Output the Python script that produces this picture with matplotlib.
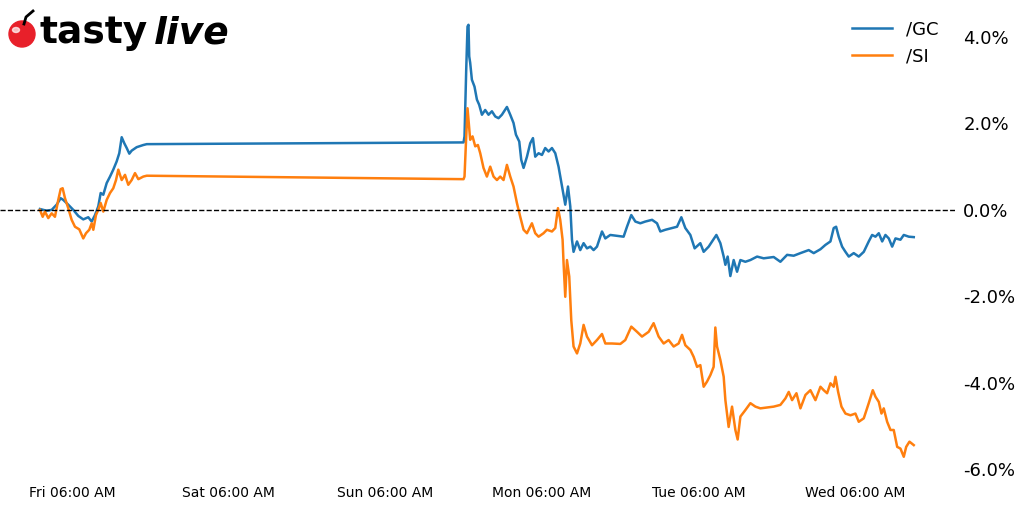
import matplotlib
matplotlib.use("Agg")
import matplotlib.pyplot as plt
from matplotlib.patches import Ellipse
from matplotlib.ticker import FuncFormatter

# hours since Fri 00:00, percent change from the first print
gc_hours = [1.09, 2.12, 2.89, 3.65, 4.27, 4.67, 5.43, 6.20, 6.97, 7.73, 8.50, 9.02, 9.53,
            10.03, 10.40, 10.80, 11.32, 11.83, 12.33, 12.85, 13.25, 13.62, 14.02, 14.39,
            14.79, 15.15, 15.92, 16.93, 17.46,
            66.01, 66.16, 66.42, 66.62, 66.77, 66.88, 67.03, 67.29, 67.69, 68.06, 68.41,
            68.83, 69.33, 69.84, 70.36, 70.87, 71.37, 71.89, 72.66, 73.17, 73.67, 74.04,
            74.55, 74.85, 75.21, 75.73, 76.23, 76.65, 77.00, 77.51, 78.03, 78.53, 79.04,
            79.56, 80.07, 80.57, 81.10, 81.60, 82.02, 82.37, 82.63, 82.87, 83.40, 83.90,
            84.41, 84.93, 85.44, 85.94, 86.46, 87.23, 87.74, 88.50, 89.53, 90.54, 91.06,
            91.72, 92.34, 93.10, 93.87, 94.90, 95.66, 96.17, 96.94, 97.96, 98.73, 99.39,
            100.00, 100.77, 101.43, 102.30, 102.81, 103.58, 104.10, 104.76, 105.37, 105.88,
            106.14, 106.49, 106.90, 107.41, 107.93, 108.44, 109.20, 109.97, 111.00, 112.01,
            113.54, 114.57, 115.60, 116.61, 117.64, 118.91, 119.68, 120.71, 121.47, 122.24,
            122.74, 123.11, 123.51, 124.03, 124.54, 125.05, 125.81, 126.58, 127.35, 128.11,
            128.63, 129.14, 129.65, 130.17, 130.67, 131.18, 131.70, 132.21, 132.97, 133.48,
            134.25, 135.01]
gc_pct = [0.02, -0.02, 0.00, 0.12, 0.27, 0.23, 0.12, 0.00, -0.14, -0.22, -0.17, -0.27, -0.12,
          0.08, 0.39, 0.35, 0.62, 0.77, 0.93, 1.12, 1.31, 1.68, 1.54, 1.43,
          1.30, 1.37, 1.45, 1.50, 1.52,
          1.56, 1.70, 3.24, 4.24, 4.28, 3.55, 3.40, 3.01, 2.85, 2.55, 2.43,
          2.20, 2.31, 2.20, 2.28, 2.16, 2.12, 2.20, 2.38, 2.20, 2.01, 1.74,
          1.58, 1.16, 0.97, 1.23, 1.54, 1.66, 1.23, 1.31, 1.27, 1.43, 1.35,
          1.43, 1.31, 1.00, 0.54, 0.12, 0.54, 0.08, -0.69, -0.97, -0.73, -0.93,
          -0.77, -0.89, -0.85, -0.93, -0.85, -0.50, -0.66, -0.58, -0.60, -0.62, -0.39,
          -0.12, -0.27, -0.31, -0.27, -0.23, -0.31, -0.50, -0.46, -0.42, -0.39, -0.17,
          -0.42, -0.58, -0.89, -0.77, -0.97, -0.85, -0.73, -0.58, -0.77, -1.08,
          -1.27, -1.08, -1.53, -1.16, -1.43, -1.16, -1.20, -1.16, -1.08, -1.12,
          -1.09, -1.20, -1.04, -1.06, -1.00, -0.93, -1.00, -0.91, -0.81, -0.73,
          -0.42, -0.39, -0.62, -0.85, -0.97, -1.08, -1.00, -1.08, -0.97, -0.73,
          -0.58, -0.62, -0.54, -0.73, -0.58, -0.66, -0.85, -0.66, -0.69, -0.58,
          -0.62, -0.63]

si_hours = [1.09, 1.51, 1.86, 2.37, 2.89, 3.39, 3.90, 4.27, 4.57, 4.93, 5.43, 5.95, 6.46,
            7.12, 7.73, 8.15, 8.65, 9.02, 9.27, 9.68, 10.03, 10.40, 10.80, 11.32, 11.83,
            12.33, 12.75, 13.10, 13.62, 14.13, 14.63, 15.15, 15.66, 16.17, 16.93, 17.46,
            66.01, 66.16, 66.42, 66.62, 66.77, 67.03, 67.39, 67.80, 68.21, 68.57, 69.07,
            69.59, 70.10, 70.61, 71.13, 71.63, 72.14, 72.66, 73.17, 73.67, 74.19, 74.70,
            75.21, 75.73, 76.49, 77.00, 77.51, 78.27, 78.79, 79.56, 80.07, 80.48, 80.83,
            81.19, 81.34, 81.60, 81.86, 82.21, 82.52, 82.87, 83.40, 83.90, 84.41, 84.93,
            85.70, 86.46, 87.23, 87.74, 88.76, 90.04, 90.80, 91.72, 92.60, 93.36, 94.38,
            95.14, 95.91, 96.68, 97.44, 98.21, 98.97, 99.50, 100.00, 100.77, 101.28, 101.80,
            102.30, 102.81, 103.33, 103.84, 104.34, 104.60, 104.86, 105.37, 105.88, 106.14,
            106.64, 107.16, 107.67, 108.02, 108.44, 109.20, 109.97, 110.74, 111.50, 112.53,
            113.54, 114.57, 115.34, 115.85, 116.36, 117.03, 117.64, 118.41, 119.17, 119.94,
            120.71, 121.21, 121.73, 122.24, 122.74, 123.01, 123.42, 123.93, 124.54, 125.31,
            126.07, 126.58, 127.35, 128.11, 128.73, 129.14, 129.65, 130.06, 130.41, 130.93,
            131.44, 131.94, 132.47, 132.97, 133.48, 133.85, 134.35, 135.01]
si_pct = [0.00, -0.16, -0.04, -0.19, -0.08, -0.16, 0.23, 0.48, 0.50, 0.27, 0.04, -0.23, -0.39,
          -0.45, -0.66, -0.54, -0.46, -0.31, -0.46, -0.12, 0.00, 0.16, -0.04, 0.23, 0.39,
          0.50, 0.69, 0.93, 0.69, 0.81, 0.58, 0.69, 0.85, 0.71, 0.77, 0.79,
          0.71, 0.77, 1.70, 2.35, 2.08, 1.62, 1.70, 1.47, 1.50, 1.31, 0.97,
          0.77, 1.00, 0.77, 0.69, 0.77, 0.69, 1.04, 0.77, 0.54, 0.16, -0.16,
          -0.46, -0.54, -0.31, -0.54, -0.62, -0.54, -0.46, -0.50, -0.42, 0.04, -0.23,
          -0.69, -1.23, -2.01, -1.16, -1.54, -2.55, -3.16, -3.32, -3.09, -2.66, -2.93,
          -3.13, -3.01, -2.87, -3.09, -3.09, -3.10, -3.01, -2.70, -2.82, -2.93, -2.82,
          -2.62, -2.93, -3.09, -3.01, -3.16, -3.09, -2.89, -3.13, -3.24, -3.40, -3.63,
          -3.59, -4.09, -3.97, -3.82, -3.63, -2.72, -3.16, -3.47, -3.86, -4.40,
          -5.02, -4.55, -5.09, -5.31, -4.78, -4.63, -4.47, -4.55, -4.59, -4.57,
          -4.55, -4.51, -4.36, -4.21, -4.40, -4.24, -4.59, -4.28, -4.17, -4.40,
          -4.09, -4.17, -4.24, -4.01, -4.09, -3.86, -4.21, -4.55, -4.71, -4.75,
          -4.71, -4.90, -4.82, -4.47, -4.17, -4.32, -4.44, -4.71, -4.59, -4.90,
          -5.09, -5.09, -5.48, -5.52, -5.71, -5.48, -5.36, -5.44]

tick_hours = [6, 30, 54, 78, 102, 126]
tick_labels = ["Fri 06:00 AM", "Sat 06:00 AM", "Sun 06:00 AM",
               "Mon 06:00 AM", "Tue 06:00 AM", "Wed 06:00 AM"]

fig = plt.figure(figsize=(10.23, 5.05), dpi=100)
ax = fig.add_axes([0.0, 0.0535, 955 / 1023, 0.9385])

ax.plot(gc_hours, gc_pct, color="#1f77b4", lw=1.8, label="/GC")
ax.plot(si_hours, si_pct, color="#ff7f0e", lw=1.8, label="/SI")
ax.axhline(0, color="black", lw=1, ls="--")

ax.set_xlim(-5.03, 141.33)
ax.set_ylim(-6.2, 4.76)
for s in ax.spines.values():
    s.set_visible(False)

ax.set_xticks(tick_hours)
ax.set_xticklabels(tick_labels, fontsize=10)
ax.set_yticks([-6, -4, -2, 0, 2, 4])
ax.yaxis.set_major_formatter(FuncFormatter(lambda v, p: f"{v:.1f}%"))
ax.yaxis.tick_right()
ax.tick_params(axis="y", length=0, pad=6, labelsize=13)
ax.tick_params(axis="x", length=0, pad=6)

ax.legend(loc="upper right", frameon=False, fontsize=13, handlelength=2.2)

# logo
fig.add_artist(Ellipse((22 / 1023, 1 - 34 / 505), 26 / 1023, 26 / 505,
                       transform=fig.transFigure, color="#e8202a"))
fig.add_artist(Ellipse((16 / 1023, 1 - 30 / 505), 7 / 1023, 5 / 505,
                       transform=fig.transFigure, color="white", alpha=0.7))
fig.add_artist(plt.Line2D([24 / 1023, 26 / 1023, 33 / 1023],
                          [1 - 24 / 505, 1 - 17 / 505, 1 - 11 / 505],
                          transform=fig.transFigure, color="black", lw=2))
fig.text(40 / 1023, 1 - 43 / 505, "tasty", fontsize=27, fontweight="bold",
         family="DejaVu Sans", color="black")
fig.text(154 / 1023, 1 - 43 / 505, "live", fontsize=27, fontweight="bold",
         style="italic", family="DejaVu Sans", color="black")

fig.savefig("out.png", dpi=100)
